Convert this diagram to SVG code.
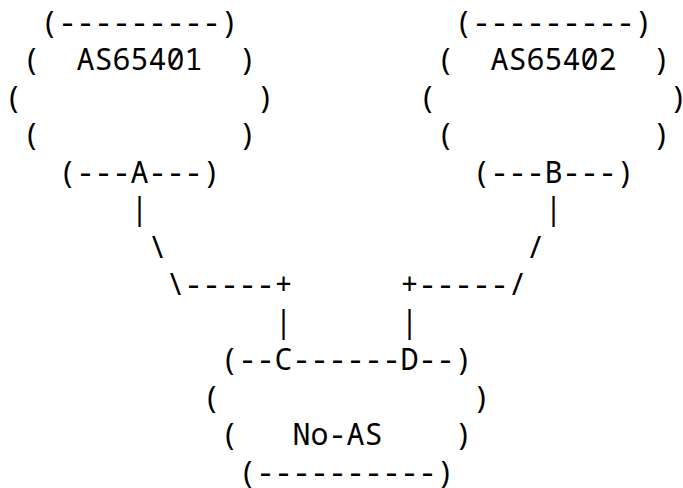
<svg xmlns="http://www.w3.org/2000/svg" width="683" height="488" viewBox="0 0 683 488">
  <style>
    text { font-family: "Noto Sans Mono", "DejaVu Sans Mono", monospace; font-size: 30px; fill: #000; white-space: pre; }
  </style>
  <rect width="683" height="488" fill="#fff"/>

  <!-- AS65401 cloud with router A -->
  <g id="as65401">
    <text x="40.5" y="32.5">(---------)</text>
    <text x="22.5" y="70">(</text>
    <text x="76.5" y="70">AS65401</text>
    <text x="238.5" y="70">)</text>
    <text x="4.5" y="107.5">(</text>
    <text x="256.5" y="107.5">)</text>
    <text x="22.5" y="145">(</text>
    <text x="238.5" y="145">)</text>
    <text x="58.5" y="182.5">(---A---)</text>
  </g>

  <!-- AS65402 cloud with router B -->
  <g id="as65402">
    <text x="454.5" y="32.5">(---------)</text>
    <text x="436.5" y="70">(</text>
    <text x="490.5" y="70">AS65402</text>
    <text x="652.5" y="70">)</text>
    <text x="418.5" y="107.5">(</text>
    <text x="669.5" y="107.5">)</text>
    <text x="436.5" y="145">(</text>
    <text x="652.5" y="145">)</text>
    <text x="472.5" y="182.5">(---B---)</text>
  </g>

  <!-- links A-C and B-D -->
  <g id="connectors">
    <text x="130.5" y="220">|</text>
    <text x="544.5" y="220">|</text>
    <text x="148.5" y="257.5">\</text>
    <text x="526.5" y="257.5">/</text>
    <text x="166.5" y="295">\-----+</text>
    <text x="400.5" y="295">+-----/</text>
    <text x="274.5" y="332.5">|</text>
    <text x="400.5" y="332.5">|</text>
  </g>

  <!-- No-AS cloud with routers C and D -->
  <g id="no-as">
    <text x="220.5" y="370">(--C------D--)</text>
    <text x="202.5" y="407.5">(</text>
    <text x="472.5" y="407.5">)</text>
    <text x="220.5" y="445">(</text>
    <text x="292.5" y="445">No-AS</text>
    <text x="454.5" y="445">)</text>
    <text x="238.5" y="482.5">(----------)</text>
  </g>
</svg>
